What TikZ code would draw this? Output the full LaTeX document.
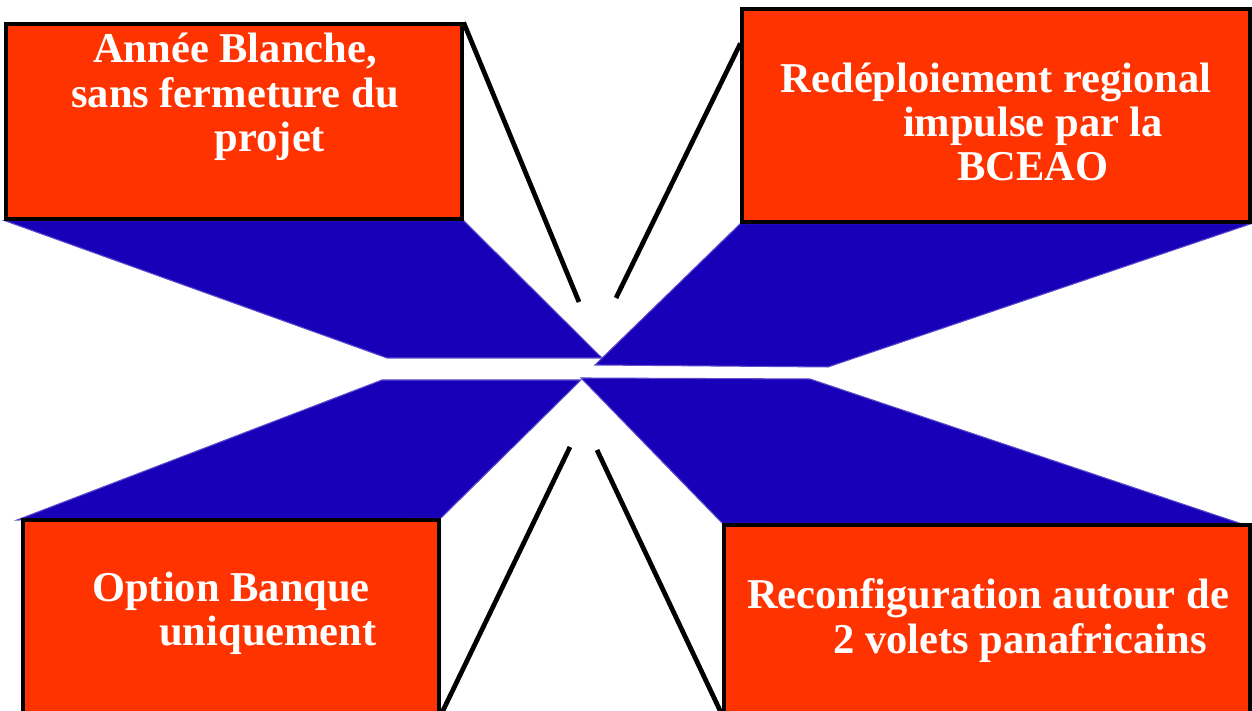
\documentclass[tikz,border=0pt]{standalone}
\usepackage{fontspec}
\setmainfont{Liberation Serif}
\usetikzlibrary{calc, backgrounds}
\definecolor{platec}{HTML}{FF3300}
\definecolor{wingc}{HTML}{1800B8}
\newcommand{\plate}[4]{%
  \node[plate, minimum width=#3, minimum height=#4] (#1) at #2 {};
}
\newcommand{\platetext}[3]{%
  \node[caption] (#1) at #2 {#3};
}

\begin{document}
\begin{tikzpicture}[line width=0.6pt,
    font=\bfseries\fontsize{12.1}{12.6}\selectfont,
    plate/.style={rectangle, draw=black, fill=platec, line width=0.9pt,
                  inner sep=0pt},
    wing/.style={fill=wingc, draw=wingc!70, line width=0.3pt},
    spoke/.style={draw=black, line width=1.35pt},
    caption/.style={text=white, align=center, inner sep=0pt}]
  \useasboundingbox (0,0) rectangle (12.52,7.11);

  \plate{annee}{(2.34,5.895)}{4.56cm}{1.95cm}
  \plate{redep}{(9.96,5.955)}{5.08cm}{2.13cm}
  \plate{option}{(2.31,0.94)}{4.16cm}{1.94cm}
  \plate{reconf}{(9.87,0.915)}{5.26cm}{1.89cm}

  \coordinate (w1) at (6.02,3.53);  \coordinate (w2) at (3.87,3.53);
  \coordinate (w3) at (8.28,3.44);  \coordinate (w4) at (5.95,3.46);
  \coordinate (w5) at (3.82,3.31);  \coordinate (w6) at (5.81,3.31);
  \coordinate (w7) at (0.17,1.91);
  \coordinate (w8) at (5.81,3.33);  \coordinate (w9) at (8.10,3.32);
  \coordinate (w10) at (12.45,1.86);
  \coordinate (s1) at (5.79,4.09);  \coordinate (s2) at (6.16,4.13);
  \coordinate (s3) at (5.70,2.64);  \coordinate (s4) at (5.97,2.61);
  \coordinate (s5) at ($(redep.north west)+(0,-0.36)$);

  \begin{scope}[on background layer]
    \fill[wing] (annee.south west) -- (annee.south east) -- (w1) -- (w2) -- cycle;
    \fill[wing] (redep.south west) -- (redep.south east) -- (w3) -- (w4) -- cycle;
    \fill[wing] (w5) -- (w6) -- (option.north east) -- (w7) -- cycle;
    \fill[wing] (w8) -- (w9) -- (w10) -- (reconf.north west) -- cycle;
    \draw[spoke] (annee.north east) -- (s1);
    \draw[spoke] (s2) -- (s5);
    \draw[spoke] (s3) -- (option.south east);
    \draw[spoke] (s4) -- (reconf.south west);
  \end{scope}

  \platetext{annee-t}{(2.35,6.14)}{Année Blanche,\\sans fermeture du\\\hspace*{7mm}projet}
  \platetext{redep-t}{(9.96,5.89)}{Redéploiement regional\\\hspace*{7.4mm}impulse par la\\\hspace*{7.4mm}BCEAO}
  \platetext{option-t}{(2.31,0.975)}{Option Banque\\\hspace*{7.4mm}uniquement}
  \platetext{reconf-t}{(9.88,0.905)}{Reconfiguration autour de\\\hspace*{6.4mm}2 volets panafricains}
\end{tikzpicture}
\end{document}
